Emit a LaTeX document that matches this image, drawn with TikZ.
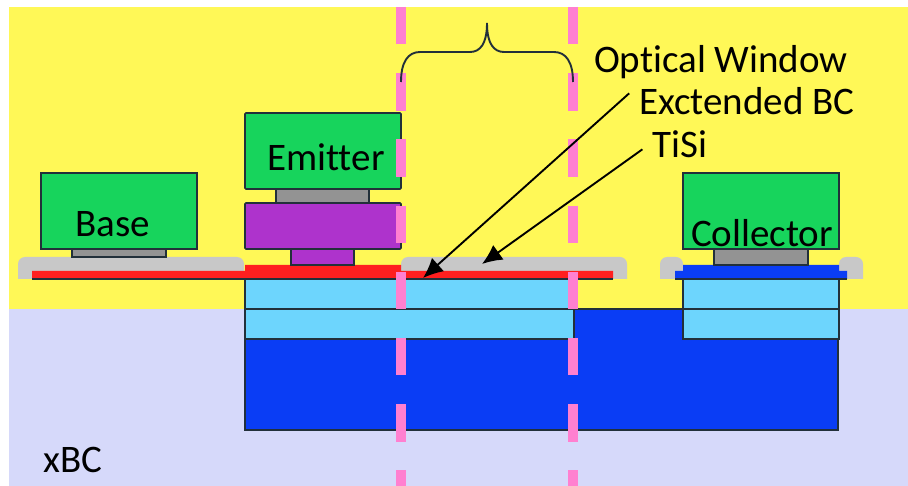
\documentclass[tikz,border=0pt]{standalone}
\usepackage{fontspec}
\usepackage{xcolor}
\usetikzlibrary{arrows.meta,positioning}
\setmainfont[Ligatures=NoCommon]{Carlito}
\definecolor{ambient}{HTML}{FFF857}
\definecolor{xbcfill}{HTML}{D6D9FA}
\definecolor{metal}{HTML}{17D45C}
\definecolor{poly}{HTML}{AE33CC}
\definecolor{contact}{HTML}{939393}
\definecolor{spacer}{HTML}{C8C8C8}
\definecolor{tisi}{HTML}{FF1F1F}
\definecolor{oxide}{HTML}{6DD5FD}
\definecolor{subc}{HTML}{0A3DF5}
\definecolor{window}{HTML}{FF80D0}
\definecolor{edge}{HTML}{22303A}

\begin{document}
\begin{tikzpicture}[
    x=1pt,y=-1pt,
    layer/.style={draw=edge,line width=1.6pt},
    tag/.style={font=\fontsize{39}{42}\selectfont,inner sep=0pt,text=black,anchor=base},
    lead/.style={-{Latex[length=20pt,width=18pt]},line width=1.9pt,draw=black},
    winedge/.style={draw=window,line width=9.5pt,dash pattern=on 37.4pt off 28.8pt}
]
\useasboundingbox (0,0) rectangle (908,486);
% background
\fill[ambient] (9,7) rectangle (908,309);
\fill[xbcfill] (9,309) rectangle (908,486);
% substrate and collector stack
\draw[layer,fill=subc] (245,309) rectangle (838,430);
\draw[layer,fill=oxide] (245,279) rectangle (572,309);
\draw[layer,fill=oxide] (245,309) rectangle (574,339);
\draw[layer,fill=oxide] (683,279) rectangle (839,309);
\draw[layer,fill=oxide] (683,309) rectangle (839,339);
% spacers
\fill[spacer] (18,279) [rounded corners=7pt] |- (244,257) [sharp corners] -- (244,279) -- cycle;
\fill[spacer] (627,279) [rounded corners=7pt] |- (401,257) [sharp corners] -- (401,279) -- cycle;
\fill[spacer] (660,279) [rounded corners=7pt] |- (683,257) [sharp corners] -- (683,279) -- cycle;
\fill[spacer] (863,279) [rounded corners=7pt] |- (839,257) [sharp corners] -- (839,279) -- cycle;
% base link
\fill[tisi] (32,271) -- (245,271) -- (245,265) -- (401,265) -- (401,271)
    -- (613,271) -- (613,279) -- (32,279) -- cycle;
\draw[layer] (32,279) -- (613,279);
% collector link
\fill[subc] (675,271) -- (683,271) -- (683,265) -- (839,265)
    -- (839,271) -- (847,271) -- (847,279) -- (675,279) -- cycle;
\draw[layer] (675,279) -- (847,279);
% contacts
\draw[layer,fill=contact] (72,249) rectangle (166,257);
\draw[layer,fill=contact] (276,189) rectangle (369,203);
\draw[layer,fill=poly] (291,249) rectangle (354,265);
\draw[layer,fill=contact] (714,249) rectangle (808,265);
% terminals
\draw[layer,fill=metal] (41,173) rectangle (197,249);
\draw[layer,fill=metal,rounded corners=1pt] (245,113) rectangle (401,189);
\draw[layer,fill=poly,rounded corners=1pt] (245,203) rectangle (401,249);
\draw[layer,fill=metal] (683,173) rectangle (839,249);
% window edges
\draw[winedge] (401,7) -- (401,486);
\draw[winedge] (573,7) -- (573,486);
% labels
\node[tag] (base) at (113,237) {Base};
\node[tag] (emitter) at (326,171) {Emitter};
\node[tag] (collector) at (762,247) {Collector};
\node[tag] (xbc) at (73,472) {xBC};
\node[tag] (optical) at (721,73) {Optical Window};
\node[tag,inner xsep=10pt] (extbc) at (747,115) {Exctended BC};
\node[tag,inner xsep=10pt] (tisilabel) at (680,158) {TiSi};
% brace over the window
\draw[line width=1.9pt,edge] (401,82) .. controls (401,62) and (408,52) .. (420,52)
    -- (470,52) .. controls (480,52) and (487,44) .. (487,23)
    .. controls (487,44) and (494,52) .. (504,52)
    -- (554,52) .. controls (566,52) and (573,62) .. (573,82);
% leaders
\coordinate (wintip) at (423,278);
\coordinate (tisitip) at (482,264);
\draw[lead] (extbc.176) -- (wintip);
\draw[lead] (tisilabel.187) -- (tisitip);
\end{tikzpicture}
\end{document}
